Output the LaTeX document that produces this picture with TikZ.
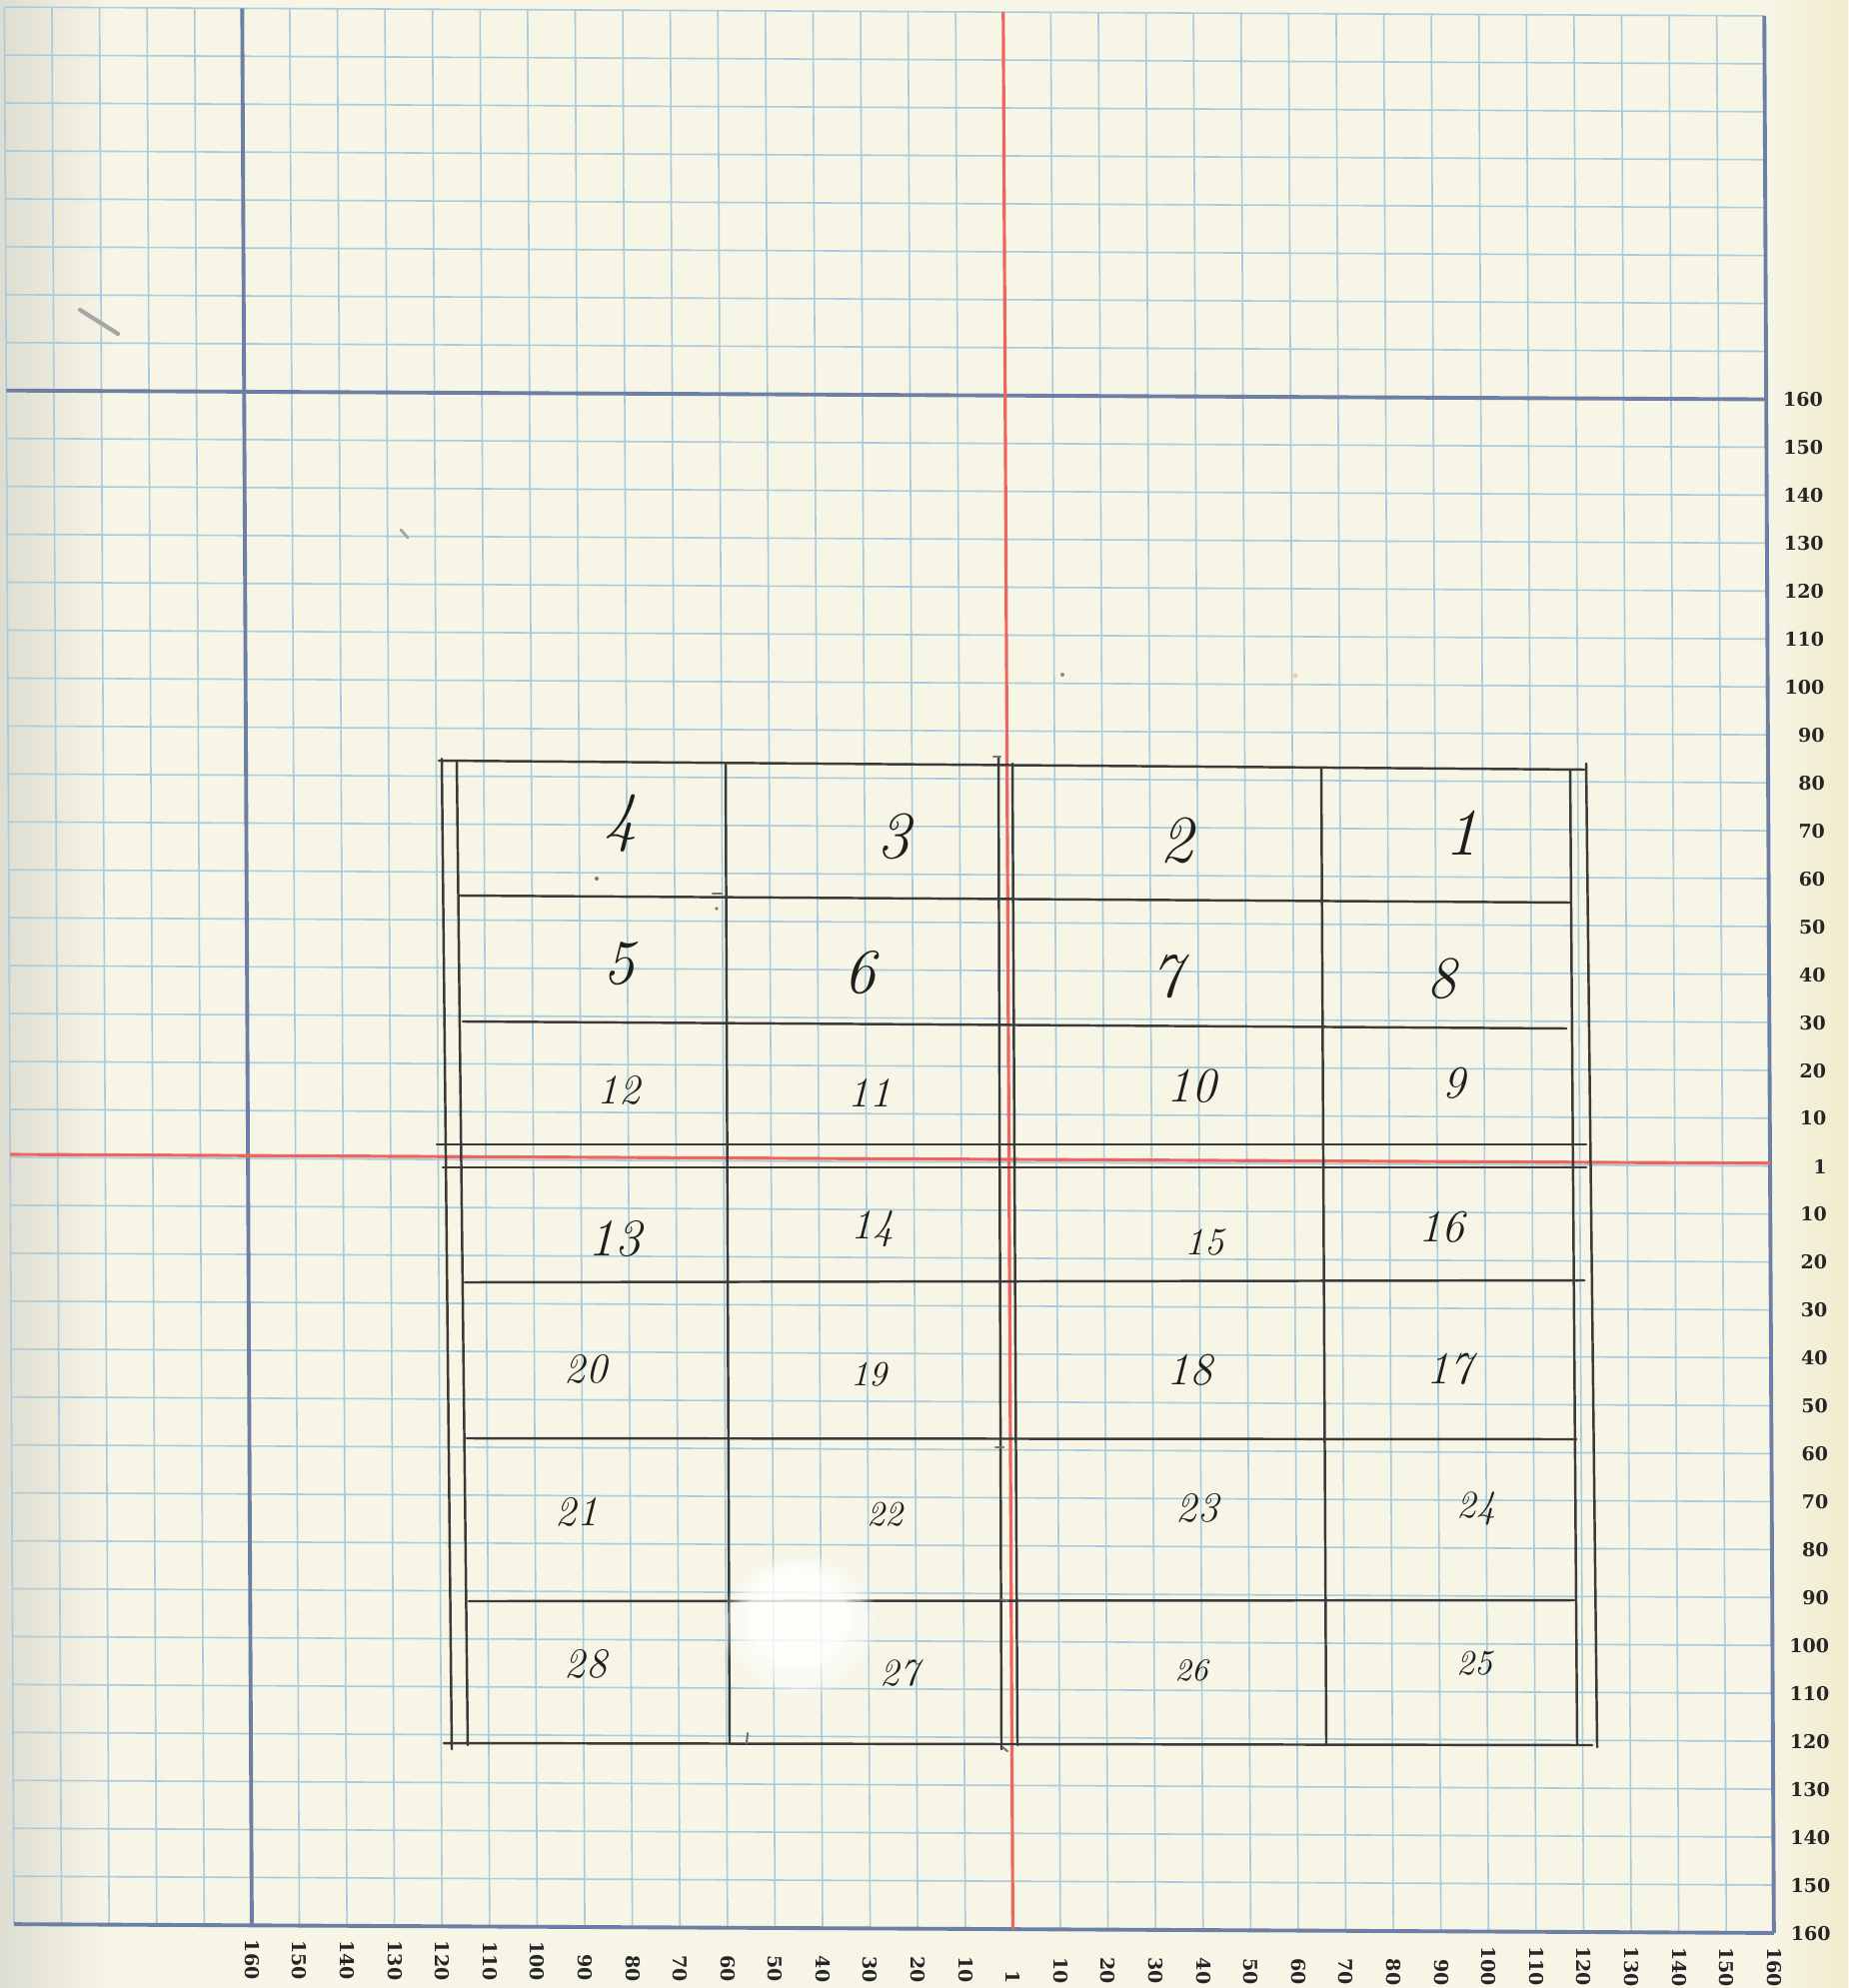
\documentclass[tikz,border=0pt]{standalone}
\usepackage{fontspec}
\newfontfamily\labfont{DejaVu Serif}
\usetikzlibrary{fadings}
\definecolor{paperc}{HTML}{F6F5E6}
\definecolor{marginc}{HTML}{F1EBCB}
\definecolor{shadowc}{HTML}{DEDDD2}
\definecolor{gridc}{HTML}{A9CBDC}
\definecolor{axisc}{HTML}{6E7FA6}
\definecolor{redc}{HTML}{EE6560}
\definecolor{pencilc}{HTML}{3A3A3A}
\definecolor{inkc}{HTML}{1E1E1E}
\definecolor{labc}{HTML}{252525}
\tikzset{
  gridln/.style={draw=gridc, line width=0.45pt},
  axisln/.style={draw=axisc, line width=1.1pt},
  redln/.style={draw=redc, line width=0.9pt},
  pencil/.style={draw=pencilc, line width=0.7pt, line cap=round},
  smudge/.style={draw=pencilc!70, line width=0.6pt, line cap=round},
  lab/.style={font=\labfont\bfseries\fontsize{5.4}{5.4}\selectfont, text=labc, inner sep=0pt},
  hand/.style={font=\itshape\fontsize{#1}{#1}\selectfont, text=inkc, inner sep=0pt},
}
\begin{document}
\begin{tikzpicture}[x=0.01cm,y=-0.01cm]
\useasboundingbox (0,0) rectangle (1849,1989);
% paper
\fill[paperc] (0,0) rectangle (1849,1989);
\shade[left color=paperc, right color=marginc] (1770,0) rectangle (1849,1989);
\shade[left color=shadowc, right color=paperc] (0,0) rectangle (110,1989);
% printed graph paper (slightly sheared like the scan)
\def\UO{242.3}\def\du{47.59}\def\VO{390.7}\def\dv{47.95}
\def\UL{4.4}\def\UR{1765.2}\def\VT{7.1}\def\VB{1925.1}
\begin{scope}[cm={1,-0.005,-0.005,1,(0,0)}]
  \foreach \k in {-5,...,32}
    \draw[gridln] ({\UO+\k*\du},\VT) -- ({\UO+\k*\du},\VB);
  \foreach \j in {-8,...,32}
    \draw[gridln] (\UL,{\VO+\j*\dv}) -- (\UR,{\VO+\j*\dv});
  \draw[axisln] (\UO,\VT) -- (\UO,\VB);
  \draw[axisln] (\UR,\VT) -- (\UR,\VB);
  \draw[axisln] (\UL,\VO) -- (\UR,\VO);
  \draw[axisln] (\UL,\VB) -- (\UR,\VB);
  \draw[redln] ({\UO+16*\du},\VT) -- ({\UO+16*\du},\VB);
  \draw[redln] (\UL,1155) -- (\UR,1155);
  % scale labels
  \foreach \k/\t in {0/160,1/150,2/140,3/130,4/120,5/110,6/100,7/90,8/80,9/70,10/60,11/50,12/40,13/30,14/20,15/10,16/1,
                     17/10,18/20,19/30,20/40,21/50,22/60,23/70,24/80,25/90,26/100,27/110,28/120,29/130,30/140,31/150,32/160}
    \node[lab, rotate=-90, anchor=east] (bl\k) at ({\UO+\k*\du},1980) {\t};
  \foreach \j/\t in {0/160,1/150,2/140,3/130,4/120,5/110,6/100,7/90,8/80,9/70,10/60,11/50,12/40,13/30,14/20,15/10,16/1,
                     17/10,18/20,19/30,20/40,21/50,22/60,23/70,24/80,25/90,26/100,27/110,28/120,29/130,30/140,31/150,32/160}
    \node[lab, anchor=east] (rl\j) at (1822.5,{\VO+\j*\dv}) {\t};
\end{scope}
% pencil drawing: outer frame and verticals
\draw[pencil] (439,761) -- (1585,770);
\draw[pencil] (442,759) -- (452,1750);
\draw[pencil] (457,762) -- (468,1746);
\draw[pencil] (726,763) -- (730,1745);
\draw[pencil] (999,757) -- (1002,1750);
\draw[pencil] (1013,764) -- (1018,1746);
\draw[pencil] (1322,768) -- (1327,1746);
\draw[pencil] (1571,771) -- (1578,1746);
\draw[pencil] (1587,764) -- (1598,1748);
% rows
\draw[pencil] (459,896) -- (1571,903);
\draw[pencil] (463,1022) -- (1567,1029);
\draw[pencil] (437,1145) -- (1587,1145);
\draw[pencil] (443,1168) -- (1587,1168);
\draw[pencil] (465,1283) -- (1585,1281);
\draw[pencil] (467,1439) -- (1577,1440);
\draw[pencil] (469,1602) -- (1575,1601);
\draw[pencil] (444,1744) -- (1593,1746);
% small pencil marks
\draw[smudge] (994,757) -- (1001,757);
\draw[smudge] (996,1448) -- (1004,1448);
\draw[smudge] (1002,1600) -- (1008,1602);
\draw[smudge] (713,894) -- (722,894);
\draw[smudge] (748,1734) -- (747,1744);
\draw[smudge] (1003,1748) -- (1008,1752);
\fill[pencilc!70] (597,879) circle (2);
\fill[pencilc!70] (717,909) circle (1.8);
\fill[pencilc!60] (1063,675) circle (2);
\fill[orange!40] (1296,676) circle (2.5);
\draw[pencilc!45, line width=1.2pt, line cap=round] (80,310) -- (118,334);
\draw[pencilc!45, line width=0.8pt, line cap=round] (401,530) -- (408,538);
% white blemish
\fill[white, opacity=0.55, path fading=circle with fuzzy edge 20 percent] (800,1625) ellipse (80 and 74);
\fill[white, opacity=0.6, path fading=circle with fuzzy edge 20 percent] (798,1618) ellipse (60 and 58);
% handwritten numbers
\foreach \t/\x/\y/\s in {4/621/824/19, 3/894/837/19, 2/1177/841/19, 1/1462/833/19,
  5/619/964/18, 6/860/973/18, 7/1167/977/18, 8/1442/979/17,
  12/619/1091/12, 11/870/1093/12, 10/1192/1087/14, 9/1455/1084/13,
  13/615/1240/15, 14/873/1230/12, 15/1205/1243/11, 16/1442/1228/13,
  20/586/1370/12, 19/869/1375/10, 18/1190/1371/13, 17/1450/1370/13,
  21/577/1513/12, 22/885/1515/10, 23/1198/1509/12, 24/1477/1509/11,
  28/586/1665/12, 27/900/1674/11, 26/1192/1671/9, 25/1475/1664/10}
  \node[hand=\s] (h\t) at (\x,\y) {\t};
\end{tikzpicture}
\end{document}
